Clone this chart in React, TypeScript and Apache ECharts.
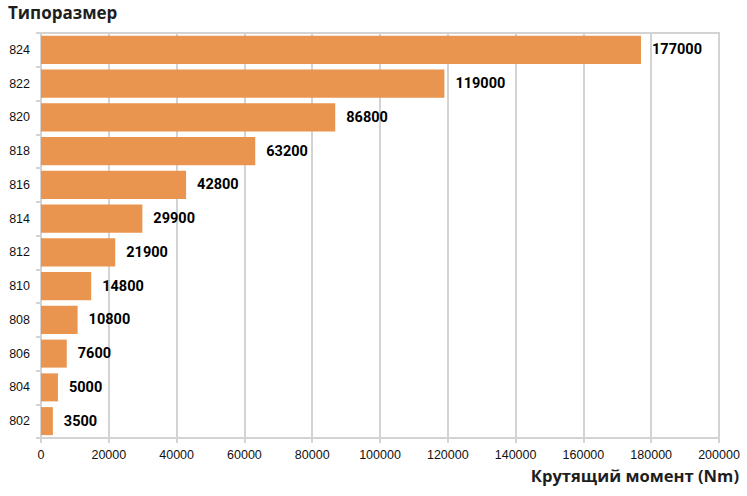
import React, { useEffect, useRef } from "react";
import * as echarts from "echarts";

const categories = ["802", "804", "806", "808", "810", "812", "814", "816", "818", "820", "822", "824"];
const torque = [3500, 5000, 7600, 10800, 14800, 21900, 29900, 42800, 63200, 86800, 119000, 177000];
const xTicks = { min: 0, max: 200000, interval: 20000 };
const yTitle = "Типоразмер";
const xTitle = "Крутящий момент (Nm)";

export default function App() {
  const ref = useRef<HTMLDivElement>(null);
  useEffect(() => {
    if (!ref.current) return;
    const chart = echarts.init(ref.current, null, { renderer: "svg" });
    const gridColor = "#d3d3d3";
    chart.setOption({
      animation: false,
      backgroundColor: "#ffffff",
      grid: {
        left: 41,
        right: 28,
        top: 33,
        bottom: 58,
        show: true,
        borderColor: gridColor,
        borderWidth: 2,
        containLabel: false,
      },
      graphic: [
        {
          type: "text",
          left: 8,
          top: 4,
          style: {
            text: yTitle,
            fontFamily: "Open Sans",
            fontWeight: "bold",
            fontSize: 17,
            fill: "#1e1e1e",
          },
        },
        {
          type: "text",
          right: 8,
          top: 467,
          style: {
            text: xTitle,
            fontFamily: "Open Sans",
            fontWeight: "bold",
            fontSize: 16.6,
            fill: "#1e1e1e",
          },
        },
      ],
      xAxis: {
        type: "value",
        min: xTicks.min,
        max: xTicks.max,
        interval: xTicks.interval,
        axisLine: { show: true, lineStyle: { color: gridColor, width: 2 } },
        axisTick: { show: true, length: 5, lineStyle: { color: gridColor, width: 2 } },
        axisLabel: {
          color: "#111",
          fontFamily: "Liberation Sans",
          fontSize: 12.5,
          margin: 10,
          formatter: (v: number) => String(v),
        },
        splitLine: { show: true, lineStyle: { color: gridColor, width: 2 } },
      },
      yAxis: {
        type: "category",
        data: categories,
        axisLine: { show: true, lineStyle: { color: gridColor, width: 2 } },
        axisTick: { show: true, length: 5, lineStyle: { color: gridColor, width: 2 } },
        axisLabel: {
          color: "#111",
          fontFamily: "Liberation Sans",
          fontSize: 12.5,
          margin: 11,
        },
        splitLine: { show: false },
      },
      series: [
        {
          type: "bar",
          data: torque,
          barCategoryGap: "17%",
          itemStyle: { color: "#EA954F" },
          label: {
            show: true,
            position: "right",
            distance: 11,
            color: "#000",
            fontFamily: "Roboto",
            fontWeight: "bold",
            fontSize: 14.5,
          },
        },
      ],
    });
    return () => chart.dispose();
  }, []);
  return <div ref={ref} style={{ width: 747, height: 496, position: "absolute", left: 0, top: 0 }} />;
}
